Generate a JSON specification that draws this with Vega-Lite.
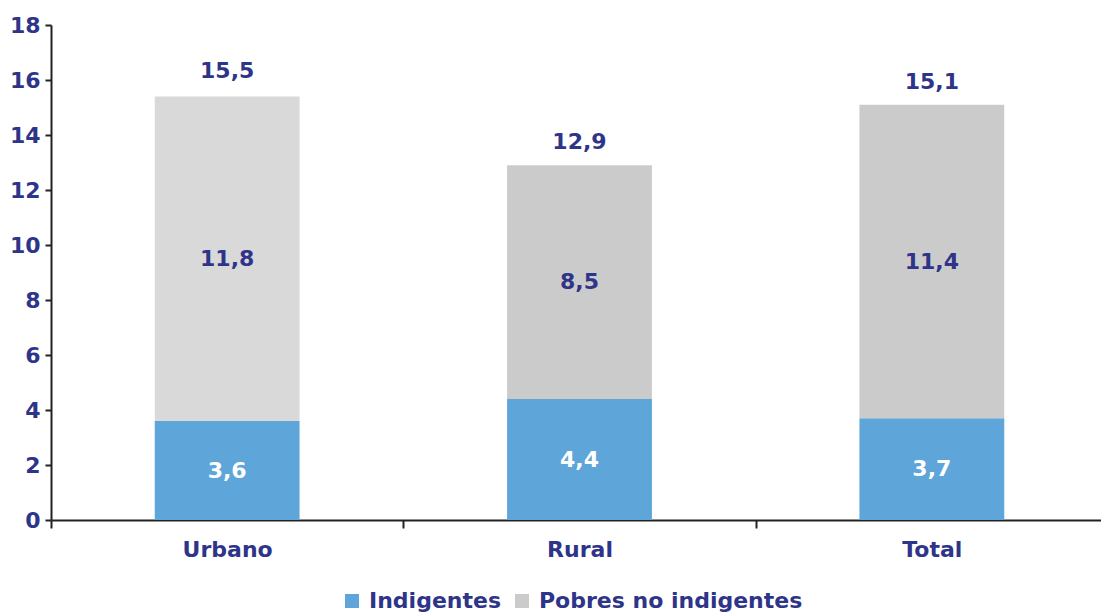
{
  "$schema": "https://vega.github.io/schema/vega-lite/v6.json",
  "width": 1057,
  "height": 495,
  "autosize": "none",
  "padding": {"left": 51, "top": 25, "right": 0, "bottom": 96},
  "background": "white",
  "config": {
    "view": {"stroke": null},
    "font": "DejaVu Sans",
    "locale": {"number": {"decimal": ",", "thousands": ".", "grouping": [3], "currency": ["", ""]}}
  },
  "datasets": {
    "parts": [
      {"zona": "Urbano", "tipo": "Indigentes", "valor": 3.6},
      {"zona": "Urbano", "tipo": "Pobres no indigentes", "valor": 11.8},
      {"zona": "Rural", "tipo": "Indigentes", "valor": 4.4},
      {"zona": "Rural", "tipo": "Pobres no indigentes", "valor": 8.5},
      {"zona": "Total", "tipo": "Indigentes", "valor": 3.7},
      {"zona": "Total", "tipo": "Pobres no indigentes", "valor": 11.4}
    ],
    "totals": [
      {"zona": "Urbano", "total": 15.5},
      {"zona": "Rural", "total": 12.9},
      {"zona": "Total", "total": 15.1}
    ]
  },
  "encoding": {
    "x": {
      "field": "zona", "type": "nominal", "sort": ["Urbano", "Rural", "Total"],
      "scale": {"paddingInner": 0, "paddingOuter": 0},
      "axis": {
        "title": null, "labelAngle": 0, "tickBand": "extent",
        "domainColor": "#222222", "domainWidth": 2, "tickColor": "#222222", "tickWidth": 2, "tickSize": 8,
        "labelFont": "DejaVu Sans", "labelFontWeight": "bold", "labelFontSize": 22, "labelColor": "#2E3589",
        "labelPadding": 11
      }
    }
  },
  "layer": [
    {
      "data": {"name": "parts"},
      "mark": {"type": "bar", "width": {"band": 0.411}},
      "encoding": {
        "y": {
          "field": "valor", "type": "quantitative", "stack": "zero",
          "scale": {"domain": [0, 18]},
          "axis": {
            "title": null, "values": [0, 2, 4, 6, 8, 10, 12, 14, 16, 18], "grid": false,
            "domainColor": "#222222", "domainWidth": 2, "tickColor": "#222222", "tickWidth": 2, "tickSize": 6,
            "labelFont": "DejaVu Sans", "labelFontWeight": "bold", "labelFontSize": 22, "labelColor": "#2E3589",
            "labelPadding": 5
          }
        },
        "order": {"field": "tipo", "sort": "ascending"},
        "color": {
          "condition": {"test": "datum.zona === 'Urbano' && datum.tipo === 'Pobres no indigentes'", "value": "#D9D9D9"},
          "field": "tipo", "type": "nominal",
          "scale": {"domain": ["Indigentes", "Pobres no indigentes"], "range": ["#5EA5DA", "#CBCBCB"]},
          "legend": {
            "title": null, "orient": "none", "direction": "horizontal", "legendX": 290, "legendY": 565,
            "symbolType": "square", "symbolSize": 196, "symbolStrokeWidth": 0,
            "labelFont": "DejaVu Sans", "labelFontWeight": "bold", "labelFontSize": 22, "labelColor": "#2E3589",
            "labelLimit": 0, "labelOffset": 6, "columnPadding": 10, "padding": 0
          }
        }
      }
    },
    {
      "data": {"name": "parts"},
      "transform": [
        {"stack": "valor", "groupby": ["zona"], "sort": [{"field": "tipo", "order": "ascending"}], "as": ["v0", "v1"]},
        {"calculate": "(datum.v0 + datum.v1) / 2", "as": "mid"}
      ],
      "mark": {"type": "text", "fontWeight": "bold", "fontSize": 22, "font": "DejaVu Sans"},
      "encoding": {
        "y": {"field": "mid", "type": "quantitative"},
        "text": {"field": "valor", "type": "quantitative", "format": ".1f"},
        "color": {
          "condition": {"test": "datum.tipo === 'Indigentes'", "value": "white"},
          "value": "#2E3589"
        }
      }
    },
    {
      "data": {"name": "totals"},
      "mark": {"type": "text", "fontWeight": "bold", "fontSize": 22, "font": "DejaVu Sans", "color": "#2E3589", "dy": -23},
      "encoding": {
        "y": {"field": "total", "type": "quantitative"},
        "text": {"field": "total", "type": "quantitative", "format": ".1f"}
      }
    }
  ]
}
